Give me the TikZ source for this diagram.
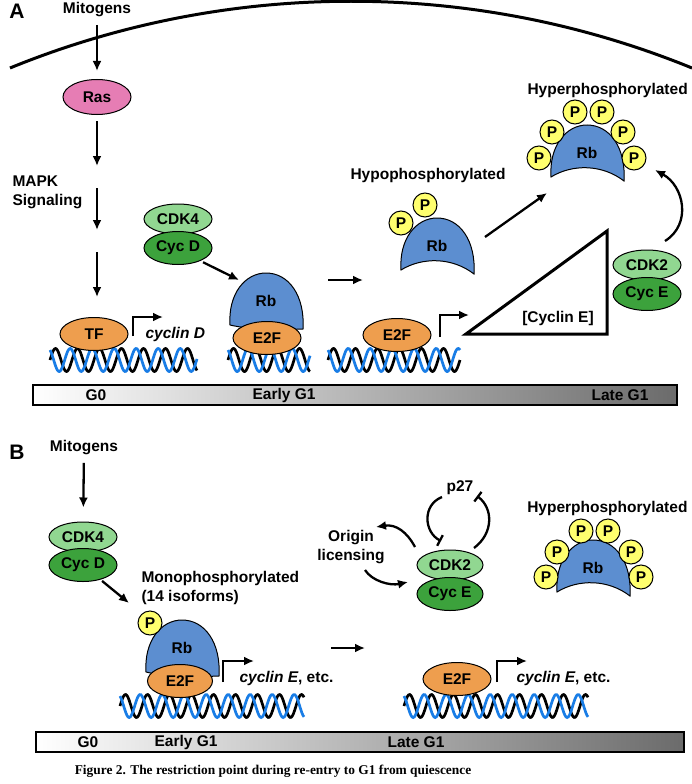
\documentclass[tikz,border=0pt]{standalone}
\usepackage{fontspec}
\setmainfont{Liberation Sans}
\newfontfamily\captionserif{Liberation Serif}
\usepackage{tikz}
\usetikzlibrary{calc}
\usetikzlibrary{positioning}
\usetikzlibrary{shapes.geometric}
\usetikzlibrary{arrows.meta}

\definecolor{raspink}{RGB}{230,125,180}
\definecolor{tforange}{RGB}{238,158,78}
\definecolor{cdkgreen}{RGB}{145,215,145}
\definecolor{cycgreen}{RGB}{60,162,60}
\definecolor{rbblue}{RGB}{92,142,208}
\definecolor{pyellow}{RGB}{255,255,110}
\definecolor{dnablue}{RGB}{25,125,230}

\tikzset{
  prot/.style={ellipse, draw, line width=1pt, inner sep=0pt, minimum width=68pt, minimum height=33pt},
  cdk/.style={prot, fill=cdkgreen, minimum height=30pt},
  cyc/.style={prot, fill=cycgreen},
  e2f/.style={prot, fill=tforange},
  phos/.style={circle, draw, line width=1pt, fill=pyellow, minimum size=24pt, inner sep=0pt},
  arr/.style={line width=2.3pt, -{Latex[length=10pt,width=9pt]}},
  inhib/.style={line width=2.3pt, -{Bar[width=12pt]}},
  gene/.style={anchor=west, font=\bfseries\itshape\fontsize{15.5}{19}\selectfont},
  phase/.style={draw=black, line width=1.5pt, left color=white, right color=black!58},
  dnak/.style={line width=2.7pt, black},
  dnab/.style={line width=2.7pt, dnablue},
  panel/.style={font=\bfseries\fontsize{21}{21}\selectfont},
  pics/rbdome/.style={code={
    \draw[fill=rbblue, line width=1pt] (-36,-1) .. controls (-38,-32) and (-21,-53) .. (0,-53)
      .. controls (23,-53) and (39,-30) .. (37,3)
      .. controls (15,#1) and (-15,#1) .. cycle;
    \node (-lbl) at (0,-25) {Rb};
  }}
}

\newcommand{\dnahelix}[3]{%
  \draw[dnak] plot[domain=#1:#2, samples=160, smooth] (\x, {#3 - 11.5*sin(16.3636*(\x-#1))});
  \draw[dnab] plot[domain=#1:#2, samples=160, smooth] (\x, {#3 - 11.5*sin(16.3636*(\x-#1) + 120)});
}

\begin{document}
\begin{tikzpicture}[x=1pt,y=-1pt,font=\bfseries\fontsize{15.5}{19}\selectfont]
\useasboundingbox[fill=white] (0,0) rectangle (692,784);

% ---------- panel A ----------
\draw[line width=3pt] (10,68) .. controls (228,-21) and (474,-21) .. (692,68);

\node[panel] (labA) at (17,11) {A};
\node (mitoA) at (97,10) {Mitogens};
\node[prot, fill=raspink, minimum height=35pt] (ras) at (97,97) {Ras};
\node[align=left, anchor=west] (mapk) at (9,192) {MAPK\\Signaling};

\coordinate (sigA1) at (97,166);
\coordinate (sigA2) at (97,188);
\coordinate (sigA3) at (97,230);
\coordinate (sigA4) at (97,252);
\coordinate (sigA5) at (97,297);
\draw[arr, shorten <=4pt, shorten >=8pt] (mitoA) -- (ras);
\draw[arr, shorten <=6pt] (ras) -- (sigA1);
\draw[arr] (sigA2) -- (sigA3);
\draw[arr] (sigA4) -- (sigA5);

% DNA strands
\dnahelix{50}{197}{360}
\dnahelix{228}{310}{360}
\dnahelix{328}{460}{360}

\node[e2f] (tf) at (94,334) {TF};
\draw[arr] (133,336) |- (163,317);
\node[gene] (cycD) at (142,334) {cyclin D};

% CDK4 / Cyc D
\node[cdk] (cdk4A) at (178,219) {CDK4};
\node[cyc] (cycDA) at (178,248) {Cyc D};
\coordinate (rbAin) at (239,280);
\draw[arr, shorten <=3pt] (cycDA.-30) -- (rbAin);

% Rb bound to E2F
\pic (rbA) at (266,326) {rbdome=4};
\node[e2f] (e2fA) at (267,338) {E2F};

\coordinate (relA1) at (328,280);
\coordinate (relA2) at (363,280);
\draw[arr] (relA1) -- (relA2);

% hypophosphorylated Rb
\node (hypo) at (428,175) {Hypophosphorylated};
\pic (rbHypo) at (437,271) {rbdome=-14};
\node[phos] (pH1) at (401,223) {P};
\node[phos] (pH2) at (425,205) {P};

\coordinate (hypOut) at (485,237);
\coordinate (hypIn) at (547,193);
\draw[arr] (hypOut) -- (hypIn);

% hyperphosphorylated Rb
\node[anchor=west] (hyperA) at (524,90) {Hyperphosphorylated};
\pic (rbHyperA) at (587,178) {rbdome=-14};
\node[phos] (pA1) at (539,158) {P};
\node[phos] (pA2) at (552,132) {P};
\node[phos] (pA3) at (575,112) {P};
\node[phos] (pA4) at (602,112) {P};
\node[phos] (pA5) at (623,132) {P};
\node[phos] (pA6) at (634,158) {P};

% free E2F and cyclin E
\node[e2f] (e2fA2) at (397,335) {E2F};
\draw[arr] (440,337) |- (469,315);
\coordinate (triL) at (466,334);
\coordinate (triT) at (607,231);
\coordinate (triR) at (607,334);
\draw[line width=3pt, line join=miter] (triL) -- (triT) -- (triR) -- cycle;
\node (cycE) at (558,318) {[Cyclin E]};

\node[cdk] (cdk2A) at (647,265) {CDK2};
\node[cyc] (cycEA) at (647,294) {Cyc E};
\coordinate (cdk2Aout) at (665,241);
\coordinate (hyperAin) at (655,170);
\draw[arr] (cdk2Aout) .. controls (692,224) and (684,186) .. (hyperAin);

% time line A
\shade[phase] (33,385) rectangle (677,405);
\node (g0A) at (96,395) {G0};
\node (eg1A) at (284,395) {Early G1};
\node (lg1A) at (620,395) {Late G1};

% ---------- panel B ----------
\node[panel] (labB) at (17,452) {B};
\node (mitoB) at (84,448) {Mitogens};
\node[cdk] (cdk4B) at (83,537) {CDK4};
\node[cyc] (cycDB) at (83,565) {Cyc D};
\draw[arr, shorten <=4pt, shorten >=14pt] (mitoB) -- (cdk4B);
\coordinate (rbBin) at (129,603);
\draw[arr, shorten <=2pt] (cycDB.-40) -- (rbBin);

\node[align=left, anchor=west] (mono) at (138,588) {Monophosphorylated\\(14 isoforms)};

\dnahelix{120}{304}{706}
\dnahelix{404}{588}{706}

\pic (rbB) at (182,673) {rbdome=4};
\node[phos] (pB1) at (150,623) {P};
\node[e2f, minimum width=65pt] (e2fB) at (180,681) {E2F};
\draw[arr] (223,682) |- (254,661);
\node[gene] (cycEB1) at (236,678) {cyclin E\upshape, etc.};

\coordinate (relB1) at (331,648);
\coordinate (relB2) at (365,648);
\draw[arr] (relB1) -- (relB2);

\node[e2f] (e2fB2) at (457,679) {E2F};
\draw[arr] (497,682) |- (527,661);
\node[gene] (cycEB2) at (513,678) {cyclin E\upshape, etc.};

% CDK2 / Cyc E with p27 and origin licensing
\node[align=center] (orig) at (351,547) {Origin\\licensing};
\node[cdk, minimum width=66pt] (cdk2B) at (450,565) {CDK2};
\node[cyc, minimum width=66pt] (cycEB) at (450,594) {Cyc E};
\node (p27) at (460,488) {p27};
\coordinate (licOut) at (415,547);
\coordinate (licIn) at (376,527);
\coordinate (licOut2) at (365,570);
\coordinate (licIn2) at (408,582);
\draw[arr] (licOut) .. controls (407,532) and (396,524) .. (licIn);
\draw[arr] (licOut2) .. controls (372,581) and (390,586) .. (licIn2);
\coordinate (p27a) at (442,497);
\coordinate (p27b) at (441,541);
\coordinate (p27c) at (474,548);
\coordinate (p27d) at (477,496);
\draw[inhib] (p27a) .. controls (422,505) and (424,532) .. (p27b);
\draw[inhib] (p27c) .. controls (494,533) and (493,508) .. (p27d);

% hyperphosphorylated Rb
\node[anchor=east] (hyperB) at (691,508) {Hyperphosphorylated};
\pic (rbHyperB) at (593,593) {rbdome=-14};
\node[phos] (pB2) at (546,577) {P};
\node[phos] (pB3) at (557,552) {P};
\node[phos] (pB4) at (581,531) {P};
\node[phos] (pB5) at (608,531) {P};
\node[phos] (pB6) at (631,552) {P};
\node[phos] (pB7) at (641,577) {P};

% time line B
\shade[phase] (36,732) rectangle (684,752);
\node (g0B) at (88,742) {G0};
\node (eg1B) at (186,742) {Early G1};
\node (lg1B) at (416,742) {Late G1};

\node[font=\captionserif\bfseries\fontsize{13.4}{15}\selectfont] (caption) at (273,771)
  {Figure 2. The restriction point during re-entry to G1 from quiescence};
\end{tikzpicture}
\end{document}
